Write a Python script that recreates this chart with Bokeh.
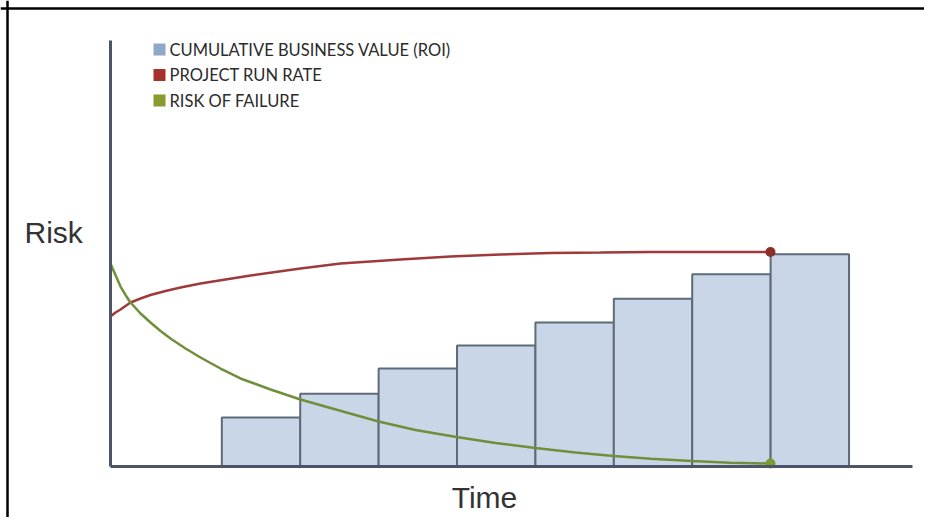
from bokeh.plotting import figure
from bokeh.models import Range1d, LinearAxis, FixedTicker, Label, Span, BoxAnnotation
from bokeh.embed import file_html
from bokeh.resources import INLINE

# ---------------- data ----------------
bar_time = [1.92, 2.92, 3.92, 4.92, 5.92, 6.92, 7.92, 8.92]
business_value = [11.5, 17.1, 23.0, 28.4, 33.8, 39.4, 45.1, 49.8]

run_time = [0, 0.064, 0.128, 0.191, 0.255, 0.383, 0.510, 0.702, 0.893, 1.148, 1.467, 1.786,
            2.105, 2.423, 2.934, 3.316, 3.699, 4.337, 4.974, 5.612, 6.250, 6.888, 7.526, 8.418]
run_rate = [35.21, 36.15, 36.85, 37.68, 38.50, 39.44, 40.26, 41.20, 42.02, 42.96, 43.90, 44.84,
            45.66, 46.48, 47.65, 48.12, 48.59, 49.30, 49.77, 50.12, 50.23, 50.35, 50.35, 50.35]

risk_time = [0, 0.038, 0.077, 0.128, 0.191, 0.255, 0.383, 0.510, 0.638, 0.765, 0.957, 1.148,
             1.403, 1.658, 2.041, 2.423, 2.806, 3.418, 3.890, 4.413, 4.911, 5.421, 5.931,
             6.416, 6.888, 7.411, 7.908, 8.418]
risk_of_failure = [47.65, 46.01, 44.37, 42.25, 40.26, 38.50, 35.92, 33.80, 31.81, 30.05, 27.70, 25.59,
                   23.00, 20.66, 18.08, 15.73, 13.73, 10.56, 8.57, 6.92, 5.52, 4.34, 3.29,
                   2.46, 1.81, 1.27, 0.89, 0.70]

legend_labels = ["CUMULATIVE BUSINESS VALUE (ROI)", "PROJECT RUN RATE", "RISK OF FAILURE"]
legend_colors = ["#8fa8c7", "#a5302c", "#8a9a2c"]
y_label = "Risk"
x_label = "Time"

# ---------------- layout / style ----------------
W, H = 924, 517
XU = 78.4          # px per time unit
YU = 4.26          # px per value unit
X0_PX, Y0_PX = 110, 466   # axis origin on canvas
XR = (-X0_PX / XU, (W - X0_PX) / XU)
YR = ((Y0_PX - H) / YU, Y0_PX / YU)

BAR_FILL = "#c9d6e7"
BAR_LINE = "#5f6a79"
AXIS_COLOR = "#4b5567"
RED = "#a03a3a"
GREEN = "#6f8f3a"
TEXT = "#2b2b2b"

p = figure(width=W, height=H, x_range=Range1d(*XR), y_range=Range1d(*YR),
           x_axis_type=None, y_axis_type=None, min_border=0,
           toolbar_location=None, output_backend="svg",
           outline_line_color=None, background_fill_color="white")

p.vbar(x=bar_time, top=business_value, bottom=0, width=1.0,
       fill_color=BAR_FILL, line_color=BAR_LINE, line_width=2)

p.line(run_time, run_rate, line_color=RED, line_width=2.5)
p.line(risk_time, risk_of_failure, line_color=GREEN, line_width=2.5)
p.scatter(x=[run_time[-1]], y=[run_rate[-1]], size=10, fill_color="#8e2b2b", line_color=None)
p.scatter(x=[risk_time[-1]], y=[risk_of_failure[-1]], size=10, fill_color="#7a9a32", line_color=None)

axis_kw = dict(fixed_location=0, ticker=FixedTicker(ticks=[], minor_ticks=[]),
               axis_line_color=AXIS_COLOR, axis_line_width=3,
               major_tick_line_color=None, minor_tick_line_color=None,
               major_label_text_alpha=0)
p.add_layout(LinearAxis(bounds=(0, (Y0_PX - 40) / YU), **axis_kw), "left")
p.add_layout(LinearAxis(bounds=(0, (912 - X0_PX) / XU), **axis_kw), "below")

# legend: square swatches + labels (screen units, y measured from bottom)
row_centers = [49, 74.5, 100]
for lab, col, cy in zip(legend_labels, legend_colors, row_centers):
    yb = H - cy
    p.add_layout(BoxAnnotation(left=153, right=165, bottom=yb - 6, top=yb + 6,
                               left_units="screen", right_units="screen",
                               bottom_units="screen", top_units="screen",
                               fill_color=col, fill_alpha=1.0, line_color=None))
    p.add_layout(Label(x=169, y=yb, x_units="screen", y_units="screen", text=lab,
                       text_font="Lato", text_font_size="16.5px",
                       text_baseline="middle", text_align="left", text_color=TEXT))

p.add_layout(Label(x=24, y=H - 232, x_units="screen", y_units="screen", text=y_label,
                   text_font="Liberation Sans", text_font_size="30px",
                   text_baseline="middle", text_align="left", text_color="#333333"))
p.add_layout(Label(x=484, y=H - 497, x_units="screen", y_units="screen", text=x_label,
                   text_font="Liberation Sans", text_font_size="30px",
                   text_baseline="middle", text_align="center", text_color="#333333"))

# picture frame (top and left edges)
p.add_layout(Span(location=XR[0] + 7 / XU, dimension="height", line_color="black", line_width=2.5))
p.add_layout(Span(location=YR[1] - 8 / YU, dimension="width", line_color="black", line_width=2.5))

open("out.html", "w").write(file_html(p, INLINE))
